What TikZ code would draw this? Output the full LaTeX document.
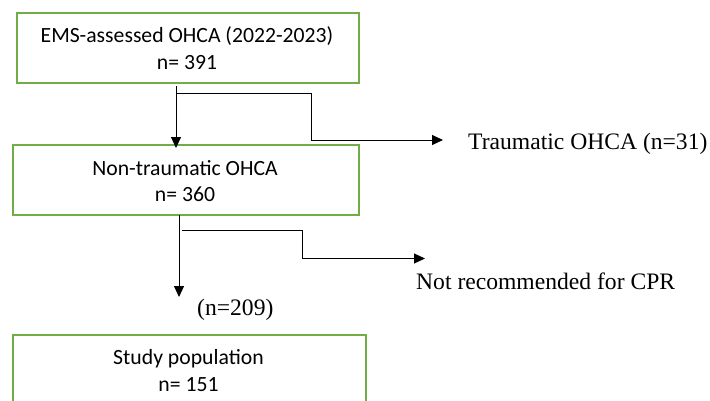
\documentclass[tikz,border=0pt]{standalone}
\usepackage{fontspec}
\setmainfont{Liberation Serif}
\newfontfamily\calfont{Carlito}
\usetikzlibrary{arrows.meta}
\definecolor{boxgreen}{RGB}{112,173,71}
\begin{document}
\begin{tikzpicture}[x=1pt,y=-1pt,
  flowbox/.style={draw=boxgreen, line width=2pt, rectangle, inner sep=0pt},
  boxtext/.style={font=\calfont\fontsize{21.7}{26.6}\selectfont, align=center, inner sep=0pt, anchor=base},
  sidetext/.style={font=\fontsize{23.6}{28}\selectfont, inner sep=0pt, anchor=base west},
  conn/.style={line width=1pt, draw=black},
  arr/.style={conn, -{Triangle[length=11pt,width=10pt]}}]
\useasboundingbox (0,0) rectangle (710,400);
\clip (0,0) rectangle (710,400);
\fill[white] (0,0) rectangle (710,400);
% boxes
\node[flowbox, minimum width=342pt, minimum height=70pt, anchor=north west] (b1) at (16,12) {};
\node[boxtext] (t1) at (187,69) {EMS-assessed OHCA (2022-2023)\\n= 391};
\node[flowbox, minimum width=346pt, minimum height=70pt, anchor=north west] (b2) at (12,144) {};
\node[boxtext] (t2) at (185,201.7) {Non-traumatic OHCA\\n= 360};
\node[flowbox, minimum width=353pt, minimum height=90pt, anchor=north west] (b3) at (12,334) {};
\node[boxtext] (t3) at (188.5,391) {Study population\\n= 151};
% side labels
\node[sidetext] (l1) at (468,149) {Traumatic OHCA (n=31)};
\node[sidetext] (l2) at (416,289) {Not recommended for CPR};
\node[sidetext] (l3) at (197,315) {(n=209)};
% connectors
\coordinate (s1) at (176,86);
\coordinate (j1) at (176,93);
\coordinate (e1) at (443,140);
\draw[arr, shorten >=-4pt] (s1) -- (s1 |- b2.north);
\draw[arr] (j1) -| (311,140) -- (e1);
\coordinate (s2) at (179,215);
\coordinate (e2) at (179,297);
\draw[arr] (s2) -- (e2);
\coordinate (j2) at (182,230);
\coordinate (e4) at (425,258.5);
\draw[arr] (j2) -| (302,258.5) -- (e4);
\end{tikzpicture}
\end{document}
